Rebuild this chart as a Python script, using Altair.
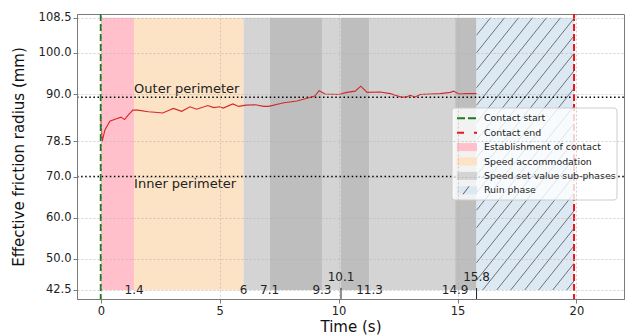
import altair as alt
import pandas as pd

# ---------------- data ----------------
time_s = [0, 0.06, 0.17, 0.38, 0.6, 0.85, 1.0, 1.15, 1.35, 1.55,
          2.0, 2.4, 2.6, 2.9, 3.05, 3.4, 3.75, 4.03, 4.5, 4.75,
          5.0, 5.15, 5.55, 5.8, 6.1, 6.5, 6.85, 7.05, 7.7, 8.25,
          8.75, 9.0, 9.18, 9.43, 10.0, 10.35, 10.7, 10.93, 11.2, 11.75,
          12.17, 12.65, 12.87, 13.0, 13.22, 13.43, 13.85, 14.27, 14.7, 14.83,
          15.05, 15.4, 15.8]
radius_mm = [84.3, 78.5, 81.2, 83.4, 83.9, 84.4, 83.8, 84.9, 86.1, 86.1,
             85.7, 85.5, 85.4, 86.1, 86.5, 85.8, 86.9, 86.3, 87.2, 86.7,
             86.9, 86.6, 87.6, 87.0, 87.3, 87.4, 87.0, 87.0, 87.9, 88.3,
             89.1, 89.5, 90.8, 90.0, 89.9, 90.4, 90.7, 91.9, 90.4, 90.5,
             90.1, 89.2, 89.3, 89.7, 89.3, 89.9, 90.0, 90.1, 90.4, 90.7,
             90.0, 90.1, 90.1]

phase_starts = [0, 1.4, 6, 7.1, 9.3, 10.1, 11.3, 14.9]
phase_ends = [1.4, 6, 7.1, 9.3, 10.1, 11.3, 14.9, 15.8]
phase_colors = ["#ffc0cb", "#fde3c5", "#d4d4d4", "#bebebe",
                "#d4d4d4", "#bebebe", "#d4d4d4", "#bebebe"]
ruin_start, ruin_end = 15.8, 19.9
contact_start, contact_end = 0.0, 19.9
span_bottom, span_top = 42.5, 108.5
outer_perimeter = 89.2
inner_perimeter = 70.0
low_marks = [1.4, 6, 7.1, 9.3, 11.3, 14.9]
high_marks = [10.1, 15.8]
y_ticks = [42.5, 50.0, 60.0, 70.0, 78.5, 90.0, 100.0, 108.5]
x_ticks = [0, 5, 10, 15, 20]

legend_names = ["Contact start", "Contact end", "Establishment of contact",
                "Speed accommodation", "Speed set value sub-phases", "Ruin phase"]
legend_colors = ["#1f7a1f", "#e8141c", "#ffc0cb", "#fde3c5", "#d4d4d4", "#dce8f2"]

# ---------------- layout ----------------
X_DOM = [-1.0, 22.0]
Y_DOM = [40.3, 109.4]
W, H = 547, 285
FONT = "DejaVu Sans"

xs = alt.Scale(domain=X_DOM, nice=False, zero=False)
ys = alt.Scale(domain=Y_DOM, nice=False, zero=False)
kx = W / (X_DOM[1] - X_DOM[0])
ky = H / (Y_DOM[1] - Y_DOM[0])


def px2x(p):
    return X_DOM[0] + p / kx


def py2y(p):
    return Y_DOM[1] - p / ky


line_df = pd.DataFrame({"t": time_s, "r": radius_mm})
span_df = pd.DataFrame({"x": phase_starts, "x2": phase_ends, "c": phase_colors,
                        "y": span_bottom, "y2": span_top})
ruin_df = pd.DataFrame({"x": [ruin_start], "x2": [ruin_end], "y": [span_bottom], "y2": [span_top]})

# hatch segments inside the ruin rectangle, computed in pixel-equivalent space
rw = (ruin_end - ruin_start) * kx
rh = (span_top - span_bottom) * ky
slope = 1.25
step = 14.0
segs = []
c = -rh / slope
while c < rw:
    vmin = max(0.0, -c * slope)
    vmax = min(rh, (rw - c) * slope)
    if vmax > vmin:
        segs.append({"x": ruin_start + (c + vmin / slope) / kx, "y": span_bottom + vmin / ky,
                     "x2": ruin_start + (c + vmax / slope) / kx, "y2": span_bottom + vmax / ky})
    c += step
hatch_df = pd.DataFrame(segs)

base_axes_x = alt.Axis(values=x_ticks, format="d", title="Time (s)", grid=True, zindex=1)
base_axes_y = alt.Axis(values=y_ticks, format=".1f", title="Effective friction radius (mm)",
                       grid=True, zindex=1)

spans = alt.Chart(span_df).mark_rect().encode(
    x=alt.X("x:Q", scale=xs, axis=base_axes_x),
    x2="x2:Q",
    y=alt.Y("y:Q", scale=ys, axis=base_axes_y),
    y2="y2:Q",
    color=alt.Color("c:N", scale=None),
)

ruin = alt.Chart(ruin_df).mark_rect(color="#dce8f2").encode(
    x=alt.X("x:Q", scale=xs), x2="x2:Q", y=alt.Y("y:Q", scale=ys), y2="y2:Q")

hatch = alt.Chart(hatch_df).mark_rule(color="#3a3a3a", strokeWidth=0.8, opacity=0.85).encode(
    x=alt.X("x:Q", scale=xs), x2="x2:Q", y=alt.Y("y:Q", scale=ys), y2="y2:Q")

perim_df = pd.DataFrame({"y": [outer_perimeter, inner_perimeter]})
perims = alt.Chart(perim_df).mark_rule(color="black", strokeWidth=1.5, strokeDash=[1.5, 2.6]).encode(
    y=alt.Y("y:Q", scale=ys), x=alt.value(0), x2=alt.value(W))

line = alt.Chart(line_df).mark_line(color="#d62728", strokeWidth=1.1).encode(
    x=alt.X("t:Q", scale=xs), y=alt.Y("r:Q", scale=ys))

cs = alt.Chart(pd.DataFrame({"x": [contact_start]})).mark_rule(
    color=legend_colors[0], strokeWidth=2, strokeDash=[7, 3]).encode(
    x=alt.X("x:Q", scale=xs), y=alt.value(0), y2=alt.value(H))
ce = alt.Chart(pd.DataFrame({"x": [contact_end]})).mark_rule(
    color=legend_colors[1], strokeWidth=2, strokeDash=[7, 3]).encode(
    x=alt.X("x:Q", scale=xs), y=alt.value(0), y2=alt.value(H))

outer_txt = alt.Chart(pd.DataFrame({"x": [1.4], "y": [outer_perimeter], "s": ["Outer perimeter"]})).mark_text(
    align="left", baseline="bottom", dy=-1, font=FONT, fontSize=13, color="#222").encode(
    x=alt.X("x:Q", scale=xs), y=alt.Y("y:Q", scale=ys), text="s:N")
inner_txt = alt.Chart(pd.DataFrame({"x": [1.4], "y": [inner_perimeter], "s": ["Inner perimeter"]})).mark_text(
    align="left", baseline="top", dy=1, font=FONT, fontSize=13, color="#222").encode(
    x=alt.X("x:Q", scale=xs), y=alt.Y("y:Q", scale=ys), text="s:N")

low_df = pd.DataFrame({"x": low_marks, "s": [f"{v:g}" for v in low_marks], "y": span_bottom})
high_df = pd.DataFrame({"x": high_marks, "s": [f"{v:g}" for v in high_marks], "y": span_bottom})
low_txt = alt.Chart(low_df).mark_text(baseline="middle", font=FONT, fontSize=12, color="#222").encode(
    x=alt.X("x:Q", scale=xs), y=alt.Y("y:Q", scale=ys), text="s:N")
high_txt = alt.Chart(high_df).mark_text(baseline="middle", dy=-13, font=FONT, fontSize=12, color="#222").encode(
    x=alt.X("x:Q", scale=xs), y=alt.Y("y:Q", scale=ys), text="s:N")
high_ticks = alt.Chart(high_df).mark_rule(color="#222", strokeWidth=1).encode(
    x=alt.X("x:Q", scale=xs), y=alt.value(H - 11), y2=alt.value(H))

# ---------------- legend (drawn box, positions in plot pixels) ----------------
LX0, LX1, LY0, LY1 = 375, 540, 94, 186
ROW0, ROWH = 104.3, 14.4
SX0, SX1, TX = 380, 400, 407
rows = pd.DataFrame({"name": legend_names, "color": legend_colors, "i": range(len(legend_names))})
rows["yc"] = [py2y(ROW0 + i * ROWH) for i in rows["i"]]
rows["yt"] = [py2y(ROW0 + i * ROWH - 4) for i in rows["i"]]
rows["yb"] = [py2y(ROW0 + i * ROWH + 4) for i in rows["i"]]
rows["xs0"] = px2x(SX0)
rows["xs1"] = px2x(SX1)
rows["xt"] = px2x(TX)

leg_box = alt.Chart(pd.DataFrame({"x": [px2x(LX0)], "x2": [px2x(LX1)],
                                  "y": [py2y(LY0)], "y2": [py2y(LY1)]})).mark_rect(
    fill="white", fillOpacity=0.8, stroke="#cccccc", strokeWidth=1, cornerRadius=3).encode(
    x=alt.X("x:Q", scale=xs), x2="x2:Q", y=alt.Y("y:Q", scale=ys), y2="y2:Q")

leg_green = alt.Chart(rows.iloc[[0]]).mark_rule(strokeWidth=2, strokeDash=[8, 3]).encode(
    x=alt.X("xs0:Q", scale=xs), x2="xs1:Q", y=alt.Y("yc:Q", scale=ys),
    color=alt.Color("color:N", scale=None))
leg_red = alt.Chart(rows.iloc[[1]]).mark_rule(strokeWidth=2, strokeDash=[7, 10]).encode(
    x=alt.X("xs0:Q", scale=xs), x2="xs1:Q", y=alt.Y("yc:Q", scale=ys),
    color=alt.Color("color:N", scale=None))
leg_sw = alt.Chart(rows.iloc[2:]).mark_rect().encode(
    x=alt.X("xs0:Q", scale=xs), x2="xs1:Q", y=alt.Y("yt:Q", scale=ys), y2="yb:Q",
    color=alt.Color("color:N", scale=None))
ruin_row = rows.iloc[[5]].copy()
ruin_row["hx0"] = px2x(SX0 + 6)
ruin_row["hx1"] = px2x(SX0 + 12)
leg_hatch = alt.Chart(ruin_row).mark_rule(color="#3a3a3a", strokeWidth=0.8).encode(
    x=alt.X("hx0:Q", scale=xs), x2="hx1:Q", y=alt.Y("yb:Q", scale=ys), y2="yt:Q")
leg_txt = alt.Chart(rows).mark_text(align="left", baseline="middle", font=FONT, fontSize=9.4,
                                    color="#222").encode(
    x=alt.X("xt:Q", scale=xs), y=alt.Y("yc:Q", scale=ys), text="name:N")

chart = alt.layer(spans, ruin, hatch, perims, line, cs, ce, outer_txt, inner_txt,
                  low_txt, high_txt, high_ticks,
                  leg_box, leg_green, leg_red, leg_sw, leg_hatch, leg_txt).properties(
    width=W, height=H,
    autosize=alt.AutoSizeParams(type="none"),
    padding={"left": 77, "top": 14, "right": 1, "bottom": 37},
).configure_view(stroke="#7a7a7a", strokeWidth=1).configure_axis(
    labelFont=FONT, labelFontSize=11.5, labelColor="#222",
    titleFont=FONT, titleFontSize=15, titleFontWeight="normal", titleColor="#111",
    gridColor="#b0b0b0", gridDash=[2, 2], gridOpacity=0.6,
    domainColor="#7a7a7a", tickColor="#7a7a7a", tickSize=4, labelPadding=2,
).configure_axisX(titlePadding=3).configure_axisY(titlePadding=12)

chart.save("out.html", embed_options={"renderer": "svg", "actions": False})
